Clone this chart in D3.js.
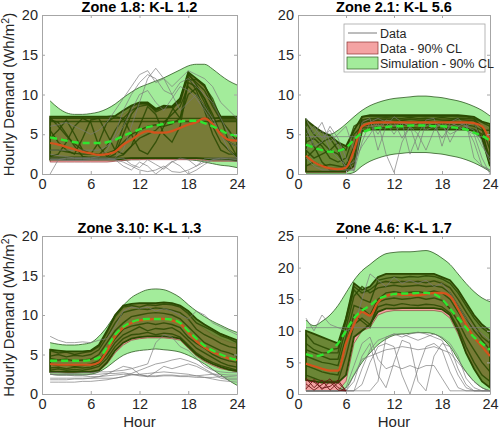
<!DOCTYPE html>
<html><head><meta charset="utf-8">
<script src="https://cdn.jsdelivr.net/npm/d3@7/dist/d3.min.js"></script>
<style>
html,body{margin:0;padding:0;background:#fff;}
svg{display:block;font-family:"Liberation Sans",Arial,Helvetica,sans-serif;}
</style></head><body>
<svg id="c" width="500" height="433"></svg>
<script>
const hours = d3.range(1, 25);
const xTicks = [0, 6, 12, 18, 24];
const titles = ["Zone 1.8: K-L 1.2", "Zone 2.1: K-L 5.6", "Zone 3.10: K-L 1.3", "Zone 4.6: K-L 1.7"];
const yMaxes = [20, 20, 20, 25];
const yTickSets = [[0,5,10,15,20],[0,5,10,15,20],[0,5,10,15,20],[0,5,10,15,20,25]];
const legendLabels = ["Data", "Data - 90% CL", "Simulation - 90% CL"];

// ---------- Zone 1.8 ----------
const z18SimHi = [9.2,8.3,7.7,7.5,7.5,7.6,7.8,8.2,8.8,9.6,10.3,10.9,11.3,11.7,12.1,12.6,13.1,13.6,13.8,13.8,13.2,12.4,11.7,11.2];
const z18SimLo = [1.6,1.6,1.6,1.6,1.6,1.6,1.6,1.6,1.7,1.7,1.8,1.8,1.9,1.9,1.9,1.9,1.9,1.8,1.7,1.5,1.3,1.1,1.0,0.8];
const z18DataHi = [7.0,7.0,7.0,7.0,7.0,7.0,7.0,7.0,7.0,7.5,8.2,8.8,8.8,8.0,8.4,8.3,9.2,12.5,11.8,11.0,8.8,7.0,7.0,7.0];
const z18DataLo = [1.5,1.5,1.5,1.5,1.5,1.5,1.5,1.5,1.6,1.7,1.8,1.8,1.8,1.8,1.8,1.8,1.8,1.8,1.8,1.7,1.6,1.6,1.6,1.6];
const z18BundleHi = [7.2,7.2,7.2,7.2,7.2,7.2,7.2,7.2,7.3,8.0,8.6,9.0,9.0,8.2,8.6,8.5,9.5,12.8,12.0,11.2,9.0,7.2,7.2,7.2];
const z18BundleLo = [1.8,1.8,1.8,1.8,1.8,1.8,1.8,1.8,1.8,1.9,2.0,2.0,2.0,2.0,2.0,2.0,2.0,2.0,2.0,1.9,1.8,1.8,1.8,1.7];
const z18SimLines = [
  [7.0,7.0,7.0,7.0,7.0,7.0,7.0,7.0,7.0,7.0,7.0,7.0,7.0,7.0,7.0,7.0,7.0,7.0,7.0,7.0,7.0,7.0,7.0,7.0],
  [6.6,6.6,6.6,6.6,6.6,6.6,6.6,6.6,6.6,6.6,6.6,6.6,6.6,6.6,6.6,6.6,6.6,6.6,6.6,6.6,6.6,6.6,6.6,6.6],
  [2.0,2.0,2.0,2.0,2.0,2.0,2.0,2.0,2.0,2.0,2.0,2.0,2.0,2.0,2.0,2.0,2.0,2.0,2.0,2.0,2.0,2.0,2.0,2.0],
  [6.8,6.5,5.0,3.5,2.2,2.0,2.0,2.0,2.5,5.0,7.5,8.8,8.9,7.8,8.3,8.4,9.0,12.5,11.5,10.5,8.5,6.8,6.8,6.8],
  [2.2,2.5,4.0,6.0,7.0,6.5,3.5,2.2,3.0,6.0,8.5,8.9,8.8,8.0,8.5,8.4,7.0,11.8,11.9,11.0,9.5,7.0,4.0,2.2],
  [4.5,5.5,6.8,5.0,3.0,2.5,4.0,6.5,7.2,7.0,5.0,3.0,2.5,4.0,6.0,8.0,9.5,12.2,10.5,8.0,5.0,3.0,2.5,2.5],
  [3.0,3.0,2.8,2.6,2.5,2.5,2.5,2.6,3.0,4.0,5.0,5.5,6.0,6.2,6.0,6.3,7.0,10.0,10.8,9.5,7.5,5.0,4.0,3.5],
  [5.5,4.0,3.0,2.5,4.5,6.8,7.0,5.0,3.0,2.5,3.5,6.0,8.5,7.5,5.0,4.0,6.0,11.5,11.0,9.0,6.5,6.8,5.5,4.0],
  [7.1,6.0,4.8,3.8,3.0,2.6,2.4,3.5,5.5,7.0,8.0,8.5,8.7,8.1,8.5,8.4,9.2,12.7,11.2,9.5,7.0,7.1,7.1,7.1],
  [2.1,2.1,2.1,2.1,2.1,2.1,2.1,2.1,2.1,2.4,3.5,4.5,5.0,5.5,6.5,7.5,8.5,11.0,10.0,8.5,6.0,4.0,3.0,2.1]
];
const z18DataLines = [
  [6.0,6.2,6.5,6.0,5.5,5.0,5.5,6.5,8.0,9.5,11.0,12.5,13.0,11.5,12.0,11.0,12.0,13.0,12.5,12.0,11.0,9.0,8.0,7.0],
  [2.5,2.3,2.2,2.0,2.0,2.0,2.2,3.0,5.0,8.0,10.0,11.5,12.5,12.0,10.5,10.0,11.5,12.0,11.0,10.0,9.0,7.0,5.0,4.0],
  [1.8,1.8,1.7,1.7,1.7,1.8,1.8,1.8,1.8,1.5,1.0,0.5,0.3,0.5,1.0,0.3,0.2,0.5,1.0,1.5,1.8,1.8,1.7,1.6],
  [2.0,2.0,2.0,2.0,2.0,2.0,2.0,2.0,1.8,1.0,0.5,1.5,1.0,0.0,0.8,1.6,1.0,0.0,0.5,1.2,1.8,2.0,2.0,2.0],
  [0.0,1.8,2.0,2.0,2.0,2.0,2.0,2.0,2.0,3.0,6.0,9.0,12.0,13.3,12.0,10.0,8.0,9.0,10.0,8.5,7.0,5.0,3.0,2.0],
  [3.0,3.0,3.0,3.0,3.0,3.0,3.0,3.5,4.5,6.0,8.0,10.0,10.5,9.0,8.0,9.5,11.0,10.5,9.5,8.0,6.5,5.0,4.0,3.5],
  [1.8,1.8,1.8,1.8,1.8,1.8,1.8,1.8,1.9,2.0,1.2,0.8,1.8,1.2,0.6,1.5,2.0,1.8,1.0,1.9,2.0,2.0,1.9,1.8]
];
const z18DataMedian = [3.9,3.7,3.4,3.1,2.8,2.6,2.4,2.5,2.8,3.7,4.3,5.0,5.4,5.2,5.2,5.4,5.8,6.2,6.5,7.0,6.3,5.0,4.3,4.2];
const z18SimMedian = [4.6,4.4,4.2,4.0,3.9,3.9,3.9,4.0,4.3,4.8,5.2,5.6,5.9,6.1,6.3,6.5,6.6,6.7,6.7,6.4,6.0,5.5,5.0,4.8];

// ---------- Zone 2.1 ----------
const z21SimHi = [7.0,5.8,5.2,5.0,5.5,6.3,7.2,8.0,8.6,9.0,9.3,9.5,9.6,9.7,9.8,9.8,9.7,9.6,9.4,9.2,8.9,8.5,8.0,7.3];
const z21SimLo = [0,0,0,0,0,0,0.2,1.0,1.6,2.0,2.3,2.5,2.6,2.7,2.7,2.7,2.6,2.5,2.3,2.1,1.8,1.4,0.9,0.3];
const z21DataHi = [1.2,1.0,0.9,0.8,0.8,1.0,4.5,6.9,7.0,7.0,7.0,7.0,7.0,7.0,7.0,7.0,7.0,7.0,7.0,7.0,7.0,6.9,6.5,5.5];
const z21DataLo = [0.2,0.2,0.2,0.2,0.2,0.2,0.8,5.8,6.0,6.0,6.0,6.0,6.0,6.0,6.0,6.0,6.0,6.0,6.0,6.0,6.0,5.8,4.5,1.0];
const z21BundleHi = [6.8,6.0,5.3,4.8,4.0,3.5,5.5,7.2,7.4,7.4,7.4,7.4,7.4,7.4,7.4,7.4,7.4,7.4,7.4,7.4,7.3,7.2,6.6,6.3];
const z21BundleLo = [0.3,0.3,0.3,0.3,0.3,0.3,1.0,5.4,5.6,5.6,5.6,5.6,5.6,5.6,5.6,5.6,5.6,5.6,5.6,5.6,5.6,5.4,4.5,1.0];
const z21SimLines = [
  [6.5,5.0,4.0,3.0,2.5,1.0,3.5,6.8,7.0,7.0,7.1,7.0,7.0,7.1,7.0,7.0,7.0,7.1,7.0,7.0,7.0,6.9,6.0,3.0],
  [4.0,4.5,3.5,2.0,1.5,2.0,5.0,6.0,6.2,6.3,6.2,6.3,6.2,6.2,6.3,6.2,6.2,6.3,6.2,6.2,6.2,6.0,5.5,5.5],
  [2.0,3.0,4.0,4.5,3.0,0.5,2.0,7.2,7.3,7.2,7.3,7.2,7.3,7.2,7.3,7.2,7.3,7.2,7.3,7.2,7.2,7.0,6.5,6.0],
  [5.5,3.5,1.5,0.5,0.5,0.5,1.5,5.8,5.8,5.9,5.8,5.9,5.8,5.9,5.8,5.9,5.8,5.9,5.8,5.9,5.8,5.6,5.0,2.0],
  [3.0,2.0,2.5,3.0,4.0,3.0,6.0,6.6,6.6,6.7,6.6,6.6,6.7,6.6,6.6,6.7,6.6,6.6,6.7,6.6,6.6,6.4,4.5,4.5],
  [1.0,1.5,1.0,1.2,1.0,0.8,3.0,6.4,6.8,6.8,6.9,6.8,6.8,6.9,6.8,6.8,6.9,6.8,6.8,6.9,6.8,6.7,5.8,1.0]
];
const z21DataLines = [
  [7.0,5.0,6.5,4.0,5.0,6.0,3.0,6.0,6.5,5.0,6.8,6.5,4.5,6.0,6.5,5.5,6.0,4.5,6.0,6.5,6.0,4.0,1.0,0.5],
  [3.0,4.5,5.5,3.0,2.0,1.0,1.5,3.5,5.0,6.5,2.5,0.2,4.0,6.0,5.0,3.0,5.5,6.5,4.0,6.0,5.5,5.0,2.0,0.0],
  [4.7,4.7,4.7,4.7,4.7,4.7,4.7,4.7,4.7,4.7,4.7,4.7,4.7,4.7,4.7,4.7,4.7,4.7,4.7,4.7,4.7,4.7,4.7,4.7],
  [5.0,6.0,4.5,5.5,3.5,0.5,0.5,6.5,7.0,3.0,6.0,7.2,6.5,2.5,5.0,6.8,7.0,3.5,6.5,7.0,6.0,5.5,3.5,2.0],
  [6.0,3.5,4.0,6.0,4.5,2.0,0.3,4.0,6.5,7.0,6.5,5.0,6.5,6.0,3.0,6.5,6.5,6.0,5.0,5.5,6.0,6.5,4.0,1.5],
  [2.0,1.0,0.5,0.5,0.5,0.5,0.5,6.0,6.5,6.0,6.5,6.0,6.5,6.0,6.5,6.0,6.5,6.0,6.5,6.0,6.5,2.0,1.0,0.5]
];
const z21DataMedian = [2.3,1.5,1.0,0.7,0.6,0.8,3.0,6.0,6.4,6.5,6.5,6.5,6.5,6.5,6.5,6.5,6.5,6.5,6.5,6.5,6.5,6.4,6.0,4.2];
const z21SimMedian = [3.7,3.3,3.0,2.8,2.9,3.3,4.3,5.2,5.6,5.8,5.9,6.0,6.0,6.1,6.1,6.1,6.0,6.0,5.9,5.8,5.6,5.2,4.8,4.2];

// ---------- Zone 3.10 ----------
const z310SimHi = [6.5,6.3,6.2,6.2,6.3,6.5,7.3,8.5,10.0,11.2,12.2,12.8,13.2,13.3,13.2,12.8,12.2,11.3,10.5,9.8,9.2,8.7,8.2,7.8];
const z310SimLo = [2.5,2.4,2.4,2.4,2.4,2.5,2.8,3.4,4.2,4.9,5.3,5.5,5.6,5.7,5.6,5.5,5.3,4.9,4.4,3.8,3.1,2.4,1.7,1.1];
const z310DataHi = [5.3,5.2,5.2,5.2,5.2,5.3,5.8,7.5,9.5,10.8,11.2,11.3,11.4,11.4,11.4,11.3,11.0,10.0,9.0,8.2,7.5,7.0,6.6,6.3];
const z310DataLo = [2.7,2.7,2.7,2.7,2.7,2.7,2.9,3.8,5.2,6.2,6.8,7.0,7.1,7.1,7.1,7.0,6.8,5.8,4.8,4.1,3.6,3.2,3.0,2.8];
const z310BundleHi = [5.6,5.5,5.4,5.4,5.4,5.5,6.2,8.0,10.0,11.2,11.4,11.5,11.5,11.5,11.6,11.5,11.2,10.5,9.5,8.8,8.2,7.6,7.2,6.8];
const z310BundleLo = [2.8,2.8,2.8,2.8,2.8,2.8,3.0,4.0,5.5,6.5,7.0,7.2,7.3,7.3,7.3,7.2,7.0,6.0,5.0,4.3,3.8,3.4,3.1,2.9];
const z310SimLines = [
  [5.5,5.2,5.3,5.0,5.2,5.4,6.0,7.8,9.8,11.0,11.2,11.0,11.3,11.2,11.4,11.3,11.0,10.2,9.0,8.5,8.0,7.4,7.0,6.5],
  [3.0,3.2,3.0,3.1,3.0,3.2,3.5,4.5,6.0,7.0,7.5,7.6,7.8,7.5,7.7,7.6,7.2,6.2,5.2,4.5,4.0,3.6,3.3,3.0],
  [4.5,4.3,4.4,4.2,4.3,4.4,5.0,6.5,8.0,9.0,9.8,10.0,10.2,10.3,10.2,10.0,9.5,8.5,7.5,6.5,6.0,5.5,5.2,4.8],
  [3.8,3.6,3.7,3.5,3.6,3.8,4.2,5.5,7.0,8.2,8.6,8.8,9.0,8.8,9.0,8.8,8.4,7.2,6.4,5.8,5.0,4.5,4.2,4.0],
  [4.8,5.0,4.7,4.9,4.8,5.0,5.6,7.2,9.0,10.3,10.6,10.8,10.7,10.9,10.8,10.6,10.3,9.5,8.2,7.5,7.0,6.4,6.0,5.8],
  [3.3,3.4,3.2,3.4,3.3,3.4,3.8,5.0,6.5,7.5,8.0,8.5,8.0,8.3,8.2,8.4,7.8,6.8,5.8,5.2,4.6,4.0,3.6,3.4]
];
const z310DataLines = [
  [7.3,6.8,6.5,6.5,6.6,6.5,6.8,7.0,8.5,10.5,11.0,10.8,11.0,10.5,10.8,10.5,10.0,9.5,10.5,10.0,9.0,8.5,8.0,7.5],
  [2.5,2.4,2.4,2.3,2.3,2.2,2.2,2.3,2.4,2.5,2.5,2.4,2.3,2.3,2.4,2.4,2.3,2.3,2.3,2.4,2.5,2.5,2.4,2.4],
  [1.5,1.5,1.5,1.5,1.6,1.6,1.7,1.8,2.0,2.2,2.4,2.5,2.6,2.7,2.8,2.7,2.6,2.5,2.3,2.1,1.9,1.7,1.6,1.5],
  [2.0,2.0,2.0,2.0,2.0,2.0,2.0,2.0,2.0,2.2,2.6,3.0,3.4,3.8,4.0,4.3,4.5,4.2,3.8,3.2,2.6,2.2,2.0,2.0],
  [1.8,1.8,1.8,1.9,1.9,2.0,2.2,2.5,3.0,3.5,3.3,2.5,2.2,2.8,3.5,3.2,3.5,3.8,3.5,3.0,2.5,2.0,1.8,1.8],
  [2.7,2.7,2.6,2.6,2.7,2.7,2.8,2.8,2.9,3.0,3.2,3.5,3.8,6.5,7.5,7.2,6.0,5.5,4.5,3.5,3.0,2.8,2.7,2.7],
  [2.5,2.5,2.5,2.5,2.5,2.5,2.5,2.6,2.6,2.7,2.5,2.3,2.2,2.2,2.3,2.3,2.2,2.2,2.1,2.1,2.1,2.2,2.2,2.3]
];
const z310DataMedian = [3.8,3.7,3.7,3.7,3.7,3.7,4.0,5.5,7.3,8.4,9.0,9.3,9.4,9.5,9.5,9.3,8.9,7.8,6.7,5.9,5.3,4.9,4.5,4.3];
const z310SimMedian = [4.2,4.2,4.2,4.2,4.2,4.3,4.6,5.9,7.5,8.5,9.1,9.4,9.5,9.5,9.5,9.4,9.0,8.0,7.0,6.1,5.5,5.0,4.6,4.3];

// ---------- Zone 4.6 ----------
const z46SimHi = [11.7,10.8,11.5,12.5,14.0,16.0,18.0,19.5,20.5,21.5,22.2,22.4,22.5,22.5,22.6,22.7,22.3,21.5,20.5,19.0,17.5,16.2,15.2,14.6];
const z46SimLo = [0.5,0.5,0.5,0.5,0.5,1.0,3.0,5.0,6.5,7.8,8.7,9.3,9.5,9.6,9.7,9.7,9.5,8.8,7.5,5.5,3.5,2.0,1.0,0.5];
const z46DataHi = [2.6,2.4,2.2,2.1,2.0,9.5,15.5,16.0,16.0,17.5,18.0,18.0,18.0,18.0,18.0,18.0,18.0,17.8,17.0,15.5,13.0,11.0,9.5,8.0];
const z46DataLo = [0.5,0.5,0.5,0.5,0.5,2.0,8.0,10.0,10.5,12.5,13.0,13.2,13.2,13.2,13.2,13.2,13.2,13.0,12.0,9.5,6.5,4.5,3.0,2.0];
const z46BundleHi = [10.0,9.5,9.0,8.5,8.0,12.0,17.5,16.5,17.0,18.5,19.0,19.0,19.0,19.0,19.0,19.0,19.0,18.5,18.0,16.5,14.5,12.5,11.0,10.0];
const z46BundleLo = [2.2,2.0,1.8,1.8,1.8,3.0,9.0,10.0,11.0,13.0,13.5,13.5,13.6,13.6,13.6,13.6,13.6,13.4,12.5,10.0,6.5,4.0,2.0,1.0];
const z46SimLines = [
  [9.5,8.0,7.5,7.0,7.2,11.5,16.5,15.0,14.5,18.0,18.3,18.5,18.4,18.6,18.5,18.7,18.6,18.2,17.5,16.0,14.0,12.0,10.5,9.5],
  [6.0,5.5,5.0,4.8,4.5,9.0,14.0,13.5,12.5,15.0,16.0,16.2,16.0,16.1,16.2,16.0,16.3,16.0,15.0,13.0,11.0,9.0,7.5,6.0],
  [3.0,2.5,2.0,2.0,2.0,6.0,11.0,12.0,11.0,13.8,14.2,14.0,14.3,14.1,14.0,14.2,14.1,13.8,12.8,10.5,7.5,5.0,3.0,2.0],
  [8.0,7.0,6.5,6.5,6.5,12.0,17.0,16.0,16.5,17.5,17.8,17.6,17.8,17.7,17.8,17.6,17.9,17.5,16.8,15.0,13.0,11.0,9.0,8.0],
  [4.5,4.0,3.5,3.2,3.0,8.0,12.5,11.5,10.5,14.5,15.0,15.2,15.0,15.1,15.3,15.0,15.2,14.8,13.5,11.5,9.0,7.0,5.0,3.5],
  [7.0,6.5,6.0,5.5,5.5,10.5,15.5,17.0,16.0,16.8,17.0,17.2,17.0,17.1,17.2,17.0,17.1,16.9,16.0,14.0,12.0,10.0,8.5,7.0]
];
const z46DataLines = [
  [12.0,10.0,12.5,11.0,10.5,10.0,10.5,15.0,19.0,18.0,17.0,18.5,17.5,18.0,17.5,18.0,17.0,17.5,16.0,14.0,12.0,10.5,9.5,8.5],
  [10.5,10.5,10.5,10.5,10.5,10.5,10.5,10.5,10.5,10.5,10.5,10.5,10.5,10.5,10.5,10.5,10.5,10.5,10.5,10.5,10.5,10.5,10.5,10.5],
  [0.5,0.5,0.5,0.5,0.5,0.5,0.5,4.0,7.0,8.5,9.0,9.5,9.0,9.5,9.8,9.5,9.0,8.5,6.0,3.0,1.0,0.5,0.5,0.5],
  [0.5,0.5,0.5,0.5,0.5,0.5,2.0,6.0,8.0,3.0,1.0,5.0,8.5,8.0,2.0,0.5,6.0,8.0,7.5,4.0,1.5,0.5,0.5,0.5],
  [0.5,0.5,0.5,0.5,0.5,0.5,0.5,1.5,5.0,7.5,8.0,7.5,3.0,0.0,4.0,7.5,8.0,7.0,3.5,1.0,0.5,0.5,0.5,0.5],
  [0.5,0.5,0.5,0.5,0.5,0.5,3.0,5.5,6.0,6.5,7.0,7.2,7.5,7.3,7.0,7.2,7.5,7.0,6.5,5.0,3.5,2.0,1.0,0.5],
  [0.5,0.5,0.5,0.5,0.5,0.5,0.5,0.5,0.5,2.0,9.0,9.5,9.5,9.0,8.5,9.0,9.5,9.0,8.0,6.0,2.5,1.0,0.5,0.5],
  [0.5,0.5,0.5,0.5,0.5,1.0,4.5,8.0,9.0,5.5,4.0,4.5,4.0,4.5,4.0,4.5,4.5,2.5,0.5,0.5,0.5,0.5,0.5,0.5]
];
const z46LowDataLines = [
  [2.5,1.0,2.2,0.6,1.8,0.5],
  [0.8,2.3,0.7,2.0,0.6,0.5],
  [1.6,0.6,1.5,2.4,1.0,0.5],
  [2.2,1.9,0.9,1.2,2.2,0.5]
];
const z46DataMedian = [4.8,4.4,4.0,3.7,3.7,8.0,11.0,13.0,12.4,14.5,15.5,15.8,15.7,15.7,15.6,15.8,16.0,16.0,15.5,13.5,11.0,9.0,7.5,6.0];
const z46SimMedian = [6.3,6.0,6.2,6.8,8.0,10.0,12.0,13.2,14.0,15.0,15.5,15.8,15.9,15.9,16.0,16.0,15.8,15.0,13.5,12.0,10.5,9.0,8.0,7.0];

const panels = [
  {simHi:z18SimHi, simLo:z18SimLo, dataHi:z18DataHi, dataLo:z18DataLo, bHi:z18BundleHi, bLo:z18BundleLo, sim:z18SimLines, data:z18DataLines, low:[], dMed:z18DataMedian, sMed:z18SimMedian},
  {simHi:z21SimHi, simLo:z21SimLo, dataHi:z21DataHi, dataLo:z21DataLo, bHi:z21BundleHi, bLo:z21BundleLo, sim:z21SimLines, data:z21DataLines, low:[], dMed:z21DataMedian, sMed:z21SimMedian},
  {simHi:z310SimHi, simLo:z310SimLo, dataHi:z310DataHi, dataLo:z310DataLo, bHi:z310BundleHi, bLo:z310BundleLo, sim:z310SimLines, data:z310DataLines, low:[], dMed:z310DataMedian, sMed:z310SimMedian},
  {simHi:z46SimHi, simLo:z46SimLo, dataHi:z46DataHi, dataLo:z46DataLo, bHi:z46BundleHi, bLo:z46BundleLo, sim:z46SimLines, data:z46DataLines, low:z46LowDataLines, dMed:z46DataMedian, sMed:z46SimMedian}
];

// layout
const boxes = [
  {x0:42, x1:237, y0:15, y1:174},
  {x0:298, x1:490, y0:15, y1:174},
  {x0:42, x1:237, y0:236, y1:394},
  {x0:298, x1:490, y0:236, y1:394}
];
const C = {
  simFill:"#a3ec9b", simEdge:"#2e5a22",
  dataFill:"#f4a3a3", dataEdge:"#8a2f2f",
  bundle:"#627424", simLine:"#2a4a02",
  dataLine:"#7a7a7a", red:"#d4531c", green:"#2ee62e",
  axis:"#a6a6a6", text:"#262626"
};

const svg = d3.select("#c");

panels.forEach((p, i) => {
  const b = boxes[i];
  const x = d3.scaleLinear().domain([0, 24]).range([b.x0, b.x1]);
  const y = d3.scaleLinear().domain([0, yMaxes[i]]).range([b.y1, b.y0]);
  const g = svg.append("g");
  const clipId = "clip" + i;
  svg.append("clipPath").attr("id", clipId).append("rect")
    .attr("x", b.x0).attr("y", b.y0).attr("width", b.x1 - b.x0).attr("height", b.y1 - b.y0);
  const pg = g.append("g").attr("clip-path", `url(#${clipId})`);

  const band = (hi, lo, curve) => d3.area().x((d, k) => x(hours[k])).y0((d, k) => y(lo[k])).y1(d => y(d)).curve(curve);
  const line = (curve) => d3.line().x((d, k) => x(hours[k])).y(d => y(d)).curve(curve);

  // simulation CL band
  pg.append("path").attr("d", band(p.simHi, p.simLo, d3.curveMonotoneX)(p.simHi))
    .attr("fill", C.simFill).attr("stroke", "none");
  pg.append("path").attr("d", line(d3.curveMonotoneX)(p.simHi)).attr("fill", "none").attr("stroke", C.simEdge).attr("stroke-width", 0.8);
  pg.append("path").attr("d", line(d3.curveMonotoneX)(p.simLo)).attr("fill", "none").attr("stroke", C.simEdge).attr("stroke-width", 0.8);

  // data CL band
  pg.append("path").attr("d", band(p.dataHi, p.dataLo, d3.curveLinear)(p.dataHi))
    .attr("fill", C.dataFill).attr("stroke", C.dataEdge).attr("stroke-width", 0.6);

  // simulation bundle
  pg.append("path").attr("d", band(p.bHi, p.bLo, d3.curveLinear)(p.bHi))
    .attr("fill", C.bundle).attr("fill-opacity", 0.85)
    .attr("stroke", C.simLine).attr("stroke-width", 1.8);
  pg.selectAll(".sl").data(p.sim).join("path")
    .attr("d", line(d3.curveLinear)).attr("fill", "none")
    .attr("stroke", C.simLine).attr("stroke-width", 1.4).attr("stroke-opacity", 0.85);

  // data lines
  pg.selectAll(".dl").data(p.data).join("path")
    .attr("d", line(d3.curveLinear)).attr("fill", "none")
    .attr("stroke", C.dataLine).attr("stroke-width", 0.8).attr("stroke-opacity", 0.85);
  pg.selectAll(".ll").data(p.low).join("path")
    .attr("d", line(d3.curveLinear)).attr("fill", "none")
    .attr("stroke", "#6a1414").attr("stroke-width", 0.9);

  // medians
  pg.append("path").attr("d", line(d3.curveMonotoneX)(p.dMed)).attr("fill", "none")
    .attr("stroke", C.red).attr("stroke-width", 2.2);
  pg.append("path").attr("d", line(d3.curveMonotoneX)(p.sMed)).attr("fill", "none")
    .attr("stroke", C.green).attr("stroke-width", 2.4).attr("stroke-dasharray", "7,4");

  // axes
  const styleAxis = sel => {
    sel.select(".domain").attr("stroke", C.axis);
    sel.selectAll(".tick line").attr("stroke", C.axis);
    sel.selectAll(".tick text").attr("fill", C.text).style("font-size", "14.5px")
      .style("font-family", '"Liberation Sans",Arial,sans-serif');
  };
  g.append("g").attr("transform", `translate(0,${b.y1})`)
    .call(d3.axisBottom(x).tickValues(xTicks).tickSizeInner(-3).tickSizeOuter(0).tickPadding(5))
    .call(styleAxis);
  g.append("g").attr("transform", `translate(0,${b.y0})`)
    .call(d3.axisTop(x).tickValues(xTicks).tickSizeInner(-3).tickSizeOuter(0).tickFormat(""))
    .call(styleAxis);
  g.append("g").attr("transform", `translate(${b.x0},0)`)
    .call(d3.axisLeft(y).tickValues(yTickSets[i]).tickSizeInner(-3).tickSizeOuter(0).tickPadding(4))
    .call(styleAxis);
  g.append("g").attr("transform", `translate(${b.x1},0)`)
    .call(d3.axisRight(y).tickValues(yTickSets[i]).tickSizeInner(-3).tickSizeOuter(0).tickFormat(""))
    .call(styleAxis);

  // title
  g.append("text").attr("x", (b.x0 + b.x1) / 2).attr("y", b.y0 - 3)
    .attr("text-anchor", "middle").attr("fill", "#000")
    .style("font-size", "14.5px").style("font-weight", "bold").text(titles[i]);

  if (i === 0 || i === 2) {
    const t = g.append("text").attr("transform", `translate(14,${(b.y0 + b.y1) / 2}) rotate(-90)`)
      .attr("text-anchor", "middle").attr("fill", C.text).style("font-size", "15px");
    t.append("tspan").text("Hourly Demand (Wh/m");
    t.append("tspan").attr("dy", -5.5).style("font-size", "10.5px").text("2");
    t.append("tspan").attr("dy", 5.5).text(")");
  }
  if (i >= 2) {
    g.append("text").attr("x", (b.x0 + b.x1) / 2).attr("y", 427)
      .attr("text-anchor", "middle").attr("fill", C.text).style("font-size", "15px").text("Hour");
  }

  // legend
  if (i === 1) {
    const lg = g.append("g").attr("transform", "translate(344,24)");
    lg.append("rect").attr("width", 141).attr("height", 48).attr("fill", "#fff").attr("stroke", C.axis).attr("stroke-width", 0.8);
    const rows = [9, 24, 39];
    lg.append("line").attr("x1", 4).attr("x2", 33).attr("y1", rows[0]).attr("y2", rows[0]).attr("stroke", C.dataLine).attr("stroke-width", 1);
    lg.append("rect").attr("x", 3).attr("y", rows[1] - 6).attr("width", 31).attr("height", 12).attr("fill", C.dataFill).attr("stroke", C.dataEdge).attr("stroke-width", 0.7);
    lg.append("rect").attr("x", 3).attr("y", rows[2] - 6).attr("width", 31).attr("height", 12).attr("fill", C.simFill).attr("stroke", C.simEdge).attr("stroke-width", 0.7);
    legendLabels.forEach((lab, k) => {
      lg.append("text").attr("x", 36).attr("y", rows[k] + 4.5).attr("fill", C.text).style("font-size", "12.5px").text(lab);
    });
  }
});
</script>
</body></html>
